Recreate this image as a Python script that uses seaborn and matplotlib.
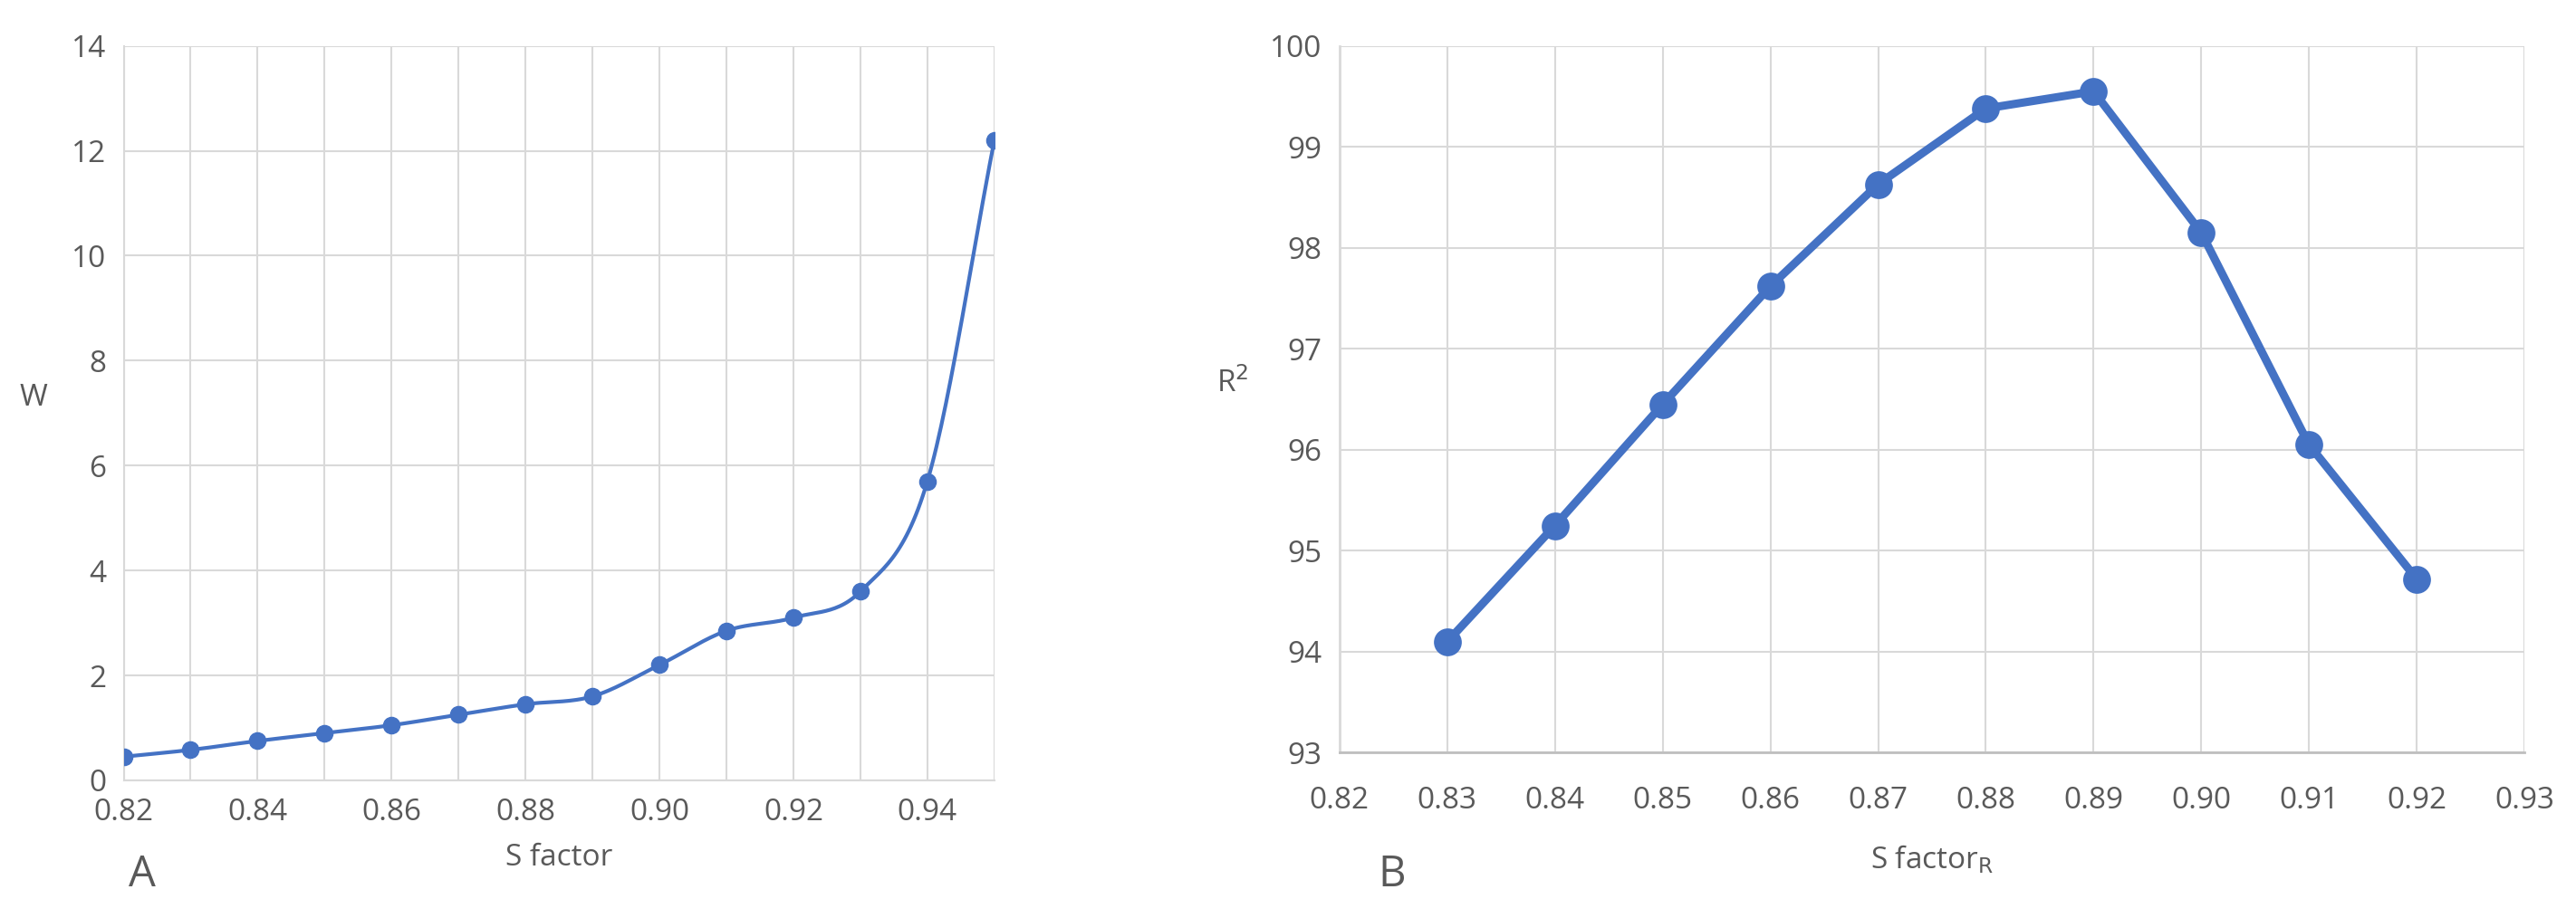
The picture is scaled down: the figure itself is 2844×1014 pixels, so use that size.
import numpy as np
import pandas as pd
import matplotlib
matplotlib.use("Agg")
import matplotlib.pyplot as plt
import seaborn as sns

sns.set_style("white")
plt.rcParams['font.family'] = ['Open Sans', 'DejaVu Sans']

BLUE = '#4472C4'
TXT = '#595959'
GRID = '#D9D9D9'

# panel A
s_factor_a = [0.82, 0.83, 0.84, 0.85, 0.86, 0.87, 0.88, 0.89, 0.90, 0.91, 0.92, 0.93, 0.94, 0.95]
w_vals = [0.45, 0.58, 0.75, 0.90, 1.05, 1.25, 1.45, 1.60, 2.20, 2.85, 3.10, 3.60, 5.70, 12.20]

# panel B
s_factor_b = [0.83, 0.84, 0.85, 0.86, 0.87, 0.88, 0.89, 0.90, 0.91, 0.92]
r2_vals = [94.10, 95.25, 96.45, 97.62, 98.63, 99.38, 99.55, 98.15, 96.05, 94.72]


def smooth(x, y, n=30):
    # catmull-rom, like excel's smoothed line
    x = np.asarray(x, float); y = np.asarray(y, float)
    px = np.concatenate([[2 * x[0] - x[1]], x, [2 * x[-1] - x[-2]]])
    py = np.concatenate([[2 * y[0] - y[1]], y, [2 * y[-1] - y[-2]]])
    t = np.linspace(0, 1, n)[:, None]
    xs, ys = [], []
    for i in range(1, len(px) - 2):
        for p, out in ((px, xs), (py, ys)):
            p0, p1, p2, p3 = p[i - 1], p[i], p[i + 1], p[i + 2]
            out.append((0.5 * (2 * p1 + (-p0 + p2) * t + (2 * p0 - 5 * p1 + 4 * p2 - p3) * t ** 2
                               + (-p0 + 3 * p1 - 3 * p2 + p3) * t ** 3)).ravel())
    return np.concatenate(xs), np.concatenate(ys)


fig = plt.figure(figsize=(28.44, 10.14), dpi=100)
ax1 = fig.add_axes([0.048, 0.15, 0.338, 0.80])
ax2 = fig.add_axes([0.52, 0.18, 0.46, 0.77])

sx, sy = smooth(s_factor_a, w_vals)
sns.lineplot(x=sx, y=sy, ax=ax1, color=BLUE, lw=3, sort=False)
sns.scatterplot(x=s_factor_a, y=w_vals, ax=ax1, color=BLUE, s=170, edgecolor=BLUE, zorder=3)
ax1.set_xlim(0.82, 0.95)
ax1.set_ylim(0, 14)
ax1.set_xticks(np.arange(0.82, 0.9401, 0.02))
ax1.set_xticks(np.arange(0.82, 0.9501, 0.01), minor=True)
ax1.set_yticks(range(0, 15, 2))
ax1.xaxis.set_major_formatter(matplotlib.ticker.FormatStrFormatter('%.2f'))
ax1.grid(True, which='both', color=GRID, lw=1.5)
ax1.set_xlabel('S factor', fontsize=24, color=TXT, labelpad=12)
ax1.set_ylabel('W', fontsize=24, color=TXT, rotation=0, labelpad=30)
ax1.tick_params(length=0, labelsize=24, labelcolor=TXT, pad=14)
for k, sp in ax1.spines.items():
    sp.set_visible(k in ('left', 'bottom'))
    sp.set_color(GRID); sp.set_linewidth(1.5)
ax1.text(0.05, 0.035, 'A', transform=fig.transFigure, fontsize=34, color=TXT)

sns.lineplot(x=s_factor_b, y=r2_vals, ax=ax2, color=BLUE, lw=6.5)
sns.scatterplot(x=s_factor_b, y=r2_vals, ax=ax2, color=BLUE, s=420, edgecolor=BLUE, zorder=3)
ax2.set_xlim(0.82, 0.93)
ax2.set_ylim(93, 100)
ax2.set_xticks(np.arange(0.82, 0.9301, 0.01))
ax2.xaxis.set_major_formatter(matplotlib.ticker.FormatStrFormatter('%.2f'))
ax2.grid(True, color=GRID, lw=1.5)
ax2.set_xlabel('S factor$_\\mathrm{R}$', fontsize=24, color=TXT, labelpad=22)
ax2.set_ylabel('R$^2$', fontsize=24, color=TXT, rotation=0, labelpad=30)
ax2.tick_params(axis='x', length=12, width=1.5, color='#BFBFBF', labelsize=24, labelcolor=TXT, pad=14)
ax2.tick_params(axis='y', length=0, labelsize=24, labelcolor=TXT, pad=14)
for k, sp in ax2.spines.items():
    sp.set_visible(k in ('left', 'bottom'))
    sp.set_color(GRID if k == 'left' else '#BFBFBF'); sp.set_linewidth(2)
ax2.text(0.535, 0.035, 'B', transform=fig.transFigure, fontsize=34, color=TXT)

fig.savefig('out.png', dpi=100)
